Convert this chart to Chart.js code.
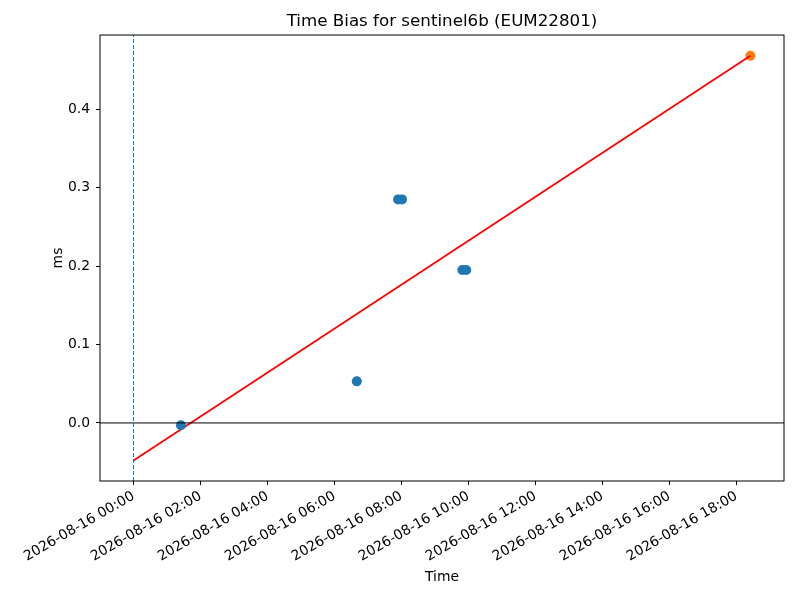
<!DOCTYPE html>
<html>
<head>
<meta charset="utf-8">
<script src="https://cdn.jsdelivr.net/npm/chart.js@4/dist/chart.umd.min.js"></script>
<style>
  html, body { margin: 0; padding: 0; background: #fff; }
  #wrap { width: 800px; height: 600px; }
</style>
</head>
<body>
<div id="wrap"><canvas id="biasChart" width="800" height="600"></canvas></div>
<script>
var day = '2026-08-16';

// observations (time of day, bias in ms)
var biasTimes = ['01:25', '06:40', '07:54', '08:01', '09:49', '09:56'];
var biasValues = [-0.003, 0.053, 0.285, 0.285, 0.195, 0.195];

// latest observation
var lastTimes = ['18:25'];
var lastValues = [0.468];

// fitted trend, start and end
var fitTimes = ['00:00', '18:25'];
var fitValues = [-0.048, 0.468];

// axis ticks
var xTickHours = [0, 2, 4, 6, 8, 10, 12, 14, 16, 18];
var yTickValues = [0.0, 0.1, 0.2, 0.3, 0.4];

var xMin = -1.0, xMax = 19.42;
var yMin = -0.074, yMax = 0.4945;

function toHours(t) {
  var p = t.split(':');
  return parseInt(p[0], 10) + parseInt(p[1], 10) / 60;
}

function pad2(n) {
  return (n < 10 ? '0' : '') + n;
}

function points(times, values) {
  return times.map(function(t, i) {
    return { x: toHours(t), y: values[i] };
  });
}

var font = { family: 'DejaVu Sans', size: 13.9 };

// matplotlib-style box round the plot area
var frameBox = {
  id: 'frameBox',
  afterDatasetsDraw: function(chart) {
    var a = chart.chartArea;
    var ctx = chart.ctx;
    ctx.save();
    ctx.strokeStyle = '#000';
    ctx.lineWidth = 1;
    ctx.strokeRect(a.left, a.top, a.right - a.left, a.bottom - a.top);
    ctx.restore();
  }
};

var ctx = document.getElementById('biasChart').getContext('2d');

var biasChart = new Chart(ctx, {
  type: 'scatter',
  data: {
    datasets: [
      {
        label: 'start',
        data: [{ x: 0, y: yMin }, { x: 0, y: yMax }],
        showLine: true,
        borderColor: '#1f77b4',
        borderWidth: 1,
        borderDash: [4, 2],
        pointRadius: 0
      },
      {
        label: 'zero',
        data: [{ x: xMin, y: 0 }, { x: xMax, y: 0 }],
        showLine: true,
        borderColor: '#000',
        borderWidth: 1,
        pointRadius: 0
      },
      {
        label: 'bias',
        data: points(biasTimes, biasValues),
        backgroundColor: '#1f77b4',
        borderColor: '#1f77b4',
        pointRadius: 5,
        borderWidth: 0
      },
      {
        label: 'fit',
        data: points(fitTimes, fitValues),
        showLine: true,
        borderColor: '#ff0000',
        borderWidth: 1.8,
        pointRadius: 0
      },
      {
        label: 'last',
        data: points(lastTimes, lastValues),
        backgroundColor: '#ff7f0e',
        borderColor: '#ff7f0e',
        pointRadius: 5,
        borderWidth: 0
      }
    ]
  },
  options: {
    responsive: false,
    animation: false,
    layout: { padding: { left: 40, right: 16, top: 0, bottom: 0 } },
    plugins: {
      legend: { display: false },
      tooltip: { enabled: false },
      title: {
        display: true,
        text: 'Time Bias for sentinel6b (EUM22801)',
        color: '#000',
        fullSize: false,
        font: { family: 'DejaVu Sans', size: 16.7, weight: 'normal' },
        padding: { top: 12, bottom: 3 }
      }
    },
    scales: {
      x: {
        type: 'linear',
        min: xMin,
        max: xMax,
        afterBuildTicks: function(scale) {
          scale.ticks = xTickHours.map(function(h) { return { value: h }; });
        },
        afterFit: function(scale) { scale.height = 119; },
        grid: { drawOnChartArea: false, drawTicks: true, tickLength: 4, color: '#000' },
        border: { display: false },
        ticks: {
          color: '#000',
          font: font,
          autoSkip: false,
          minRotation: 30,
          maxRotation: 30,
          padding: 3,
          callback: function(v) { return day + ' ' + pad2(v) + ':00'; }
        },
        title: {
          display: true,
          text: 'Time',
          color: '#000',
          font: font,
          padding: { top: 14, bottom: 14 }
        }
      },
      y: {
        type: 'linear',
        min: yMin,
        max: yMax,
        afterBuildTicks: function(scale) {
          scale.ticks = yTickValues.map(function(v) { return { value: v }; });
        },
        afterFit: function(scale) { scale.width = 60; },
        grid: { drawOnChartArea: false, drawTicks: true, tickLength: 4, color: '#000' },
        border: { display: false },
        ticks: {
          color: '#000',
          font: font,
          padding: 6,
          callback: function(v) { return v.toFixed(1); }
        },
        title: {
          display: true,
          text: 'ms',
          color: '#000',
          font: font,
          padding: { top: 10, bottom: 10 }
        }
      }
    }
  },
  plugins: [frameBox]
});
</script>
</body>
</html>
